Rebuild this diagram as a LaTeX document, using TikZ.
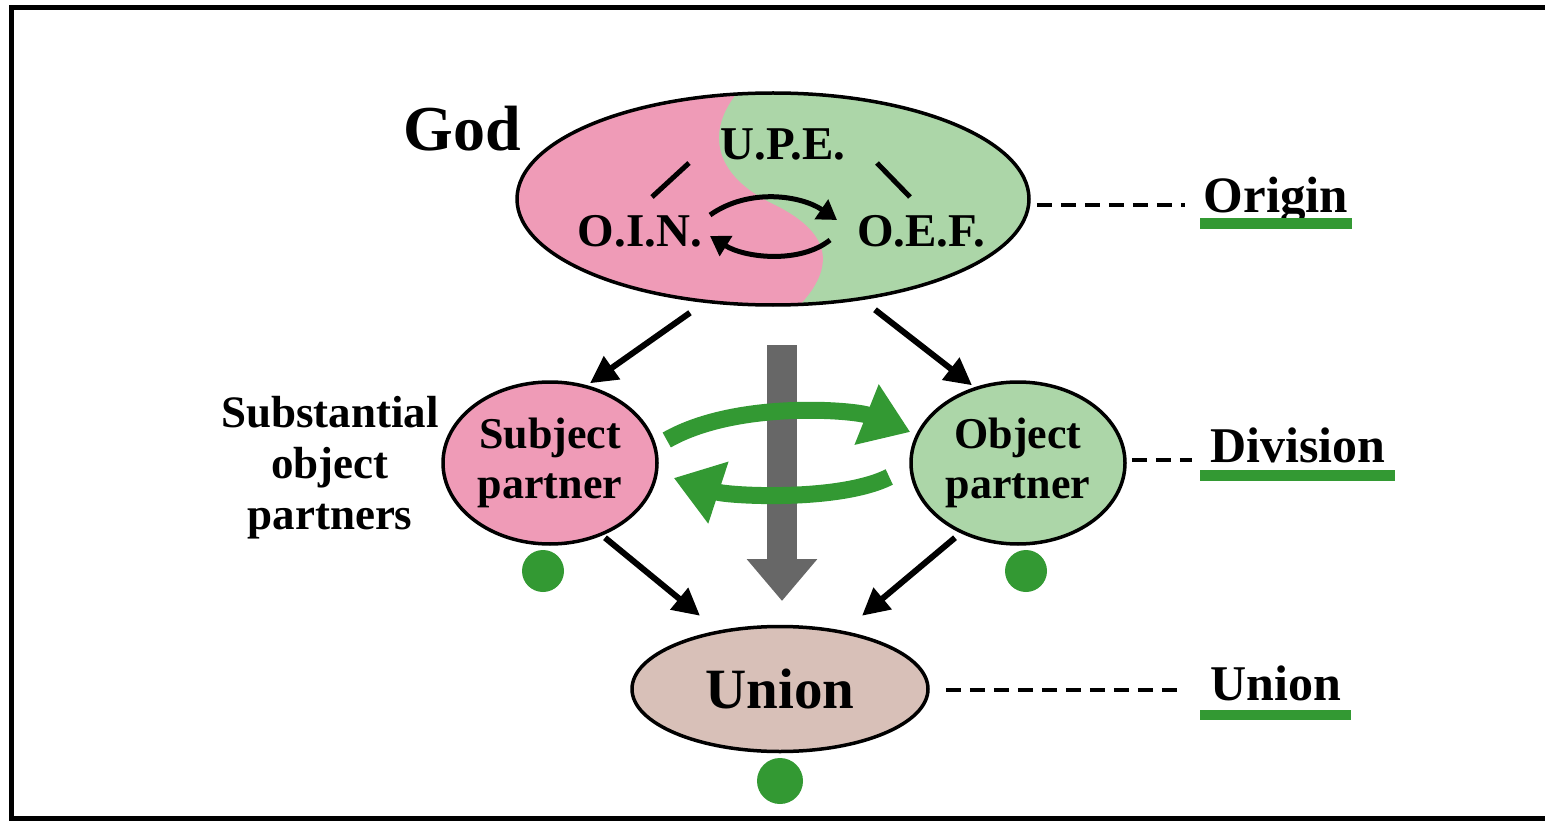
\documentclass[tikz,border=0pt]{standalone}
\usepackage{fontspec}
\setmainfont{Liberation Serif}
\usepackage{xcolor}
\usepackage{tikz}
\usetikzlibrary{positioning, arrows.meta, calc, shapes.geometric}
\definecolor{partnerpink}{HTML}{EF9BB7}
\definecolor{partnergreen}{HTML}{ACD6A8}
\definecolor{unionbrown}{HTML}{D8C0B8}
\definecolor{markgreen}{HTML}{339933}
\definecolor{flowgray}{HTML}{676767}

\begin{document}
\begin{tikzpicture}[x=1pt, y=-1pt,
    bigoval/.style={ellipse, draw=black, line width=3.5pt, inner sep=0pt, align=center},
    txt/.style 2 args={font=\bfseries\fontsize{#1}{#2}\selectfont, inner sep=0pt, align=center},
    lbl/.style={font=\bfseries\fontsize{50}{50}\selectfont, inner ysep=0pt, inner xsep=10pt, anchor=base west},
    flowline/.style={line width=6pt, -{Triangle[length=27pt, width=27pt]}},
    cycline/.style={line width=5pt, -{Triangle[length=19pt, width=23pt]}},
    swaparrow/.style={markgreen, line width=17pt, -{Triangle[length=47pt, width=62pt]}},
    tieline/.style={line width=4pt, dash pattern=on 15pt off 9pt},
    dotmark/.style={circle, fill=markgreen, inner sep=0pt}]
  \useasboundingbox (0,0) rectangle (1545,821);
  \draw[line width=5pt] (1550,7.5) -- (11.5,7.5) -- (11.5,818.5) -- (1550,818.5);

  % origin
  \node[bigoval, minimum width=512pt, minimum height=212pt,
        path picture={
          \fill[partnergreen] (-273,-119) rectangle (277,131);
          \fill[partnerpink] (-273,-119) -- (-34,-119) -- (-36,-106)
            .. controls (-66,-69) and (-62,-24) .. (2,6)
            .. controls (62,36) and (62,71) .. (22,111)
            -- (22,131) -- (-273,131) -- cycle;
        }] (god) at (773,199) {};
  \node[txt={64}{64}] (godlbl) at (462,129) {God};
  \node[txt={47}{47}] (upe) at (783,144) {U.P.E.};
  \node[txt={47}{47}] (oin) at (640,231) {O.I.N.};
  \node[txt={47}{47}] (oef) at (921,231) {O.E.F.};
  \draw[line width=5pt] ([shift={(12,-34)}]oin.center) -- ([shift={(-94,19)}]upe.center);
  \draw[line width=5pt] ([shift={(94,19)}]upe.center) -- ([shift={(-11,-34)}]oef.center);
  \draw[cycline] ([shift={(70,-16)}]oin.center) .. controls +(40,-28) and +(-35,-24) .. ([shift={(-84,-11)}]oef.center);
  \draw[cycline] ([shift={(-91,9)}]oef.center) .. controls +(-30,24) and +(35,22) .. ([shift={(70,5)}]oin.center);

  % division
  \node[bigoval, fill=partnerpink, minimum width=214pt, minimum height=162pt, txt={44}{50}] (subj) at (550,463) {Subject\\partner};
  \node[bigoval, fill=partnergreen, minimum width=214pt, minimum height=162pt, txt={44}{50}] (obj) at (1018,463) {Object\\partner};
  \node[txt={45}{51}] (sublbl) at (330,468) {Substantial\\object\\partners};

  % union
  \node[bigoval, fill=unionbrown, minimum width=296pt, minimum height=125pt, txt={57}{57}] (union) at (780,689) {Union};

  \node[dotmark, minimum size=42pt] (subjdot) at (543,571) {};
  \node[dotmark, minimum size=42pt] (objdot) at (1026,571) {};
  \node[dotmark, minimum size=46pt] (uniondot) at (780,781) {};

  \coordinate (flowtop) at (782,345);
  \coordinate (flowend) at (782,601);
  \draw[flowgray, line width=30pt, -{Triangle[length=42pt, width=68pt]}] (flowtop) -- (flowend);

  \draw[flowline] ([shift={(-83,6)}]god.south) -- ([shift={(40,3)}]subj.north);
  \draw[flowline] ([shift={(102,3)}]god.south) -- ([shift={(-46,5)}]obj.north);
  \draw[flowline] ([shift={(55,-8)}]subj.south) -- ([shift={(-80,-9)}]union.north);
  \draw[flowline] ([shift={(-63,-8)}]obj.south) -- ([shift={(82,-9)}]union.north);

  \draw[swaparrow] ([shift={(8,-23)}]subj.east) .. controls +(70,-40) and +(-55,-22) .. ([shift={(1,-31)}]obj.west);
  \draw[swaparrow] ([shift={(-20,14)}]obj.west) .. controls +(-50,25) and +(55,18) .. ([shift={(15,15)}]subj.east);

  % stage labels
  \node[lbl, inner xsep=3.5pt, font=\bfseries\fontsize{51}{51}\selectfont] (origin) at (1200,213) {Origin};
  \node[lbl] (division) at (1200,462) {Division};
  \node[lbl] (unionlbl) at (1200,700) {Union};
  \fill[markgreen] ([shift={(0,5)}]origin.base west) rectangle ([shift={(0,16)}]origin.base east);
  \fill[markgreen] ([shift={(0,8)}]division.base west) rectangle ([shift={(0,19)}]division.base east);
  \fill[markgreen] ([shift={(0,10)}]unionlbl.base west) rectangle ([shift={(0,20)}]unionlbl.base east);

  \draw[tieline] ([shift={(6,6)}]god.east) -- ($(god.east -| origin.west)+(-15,6)$);
  \draw[tieline] ([shift={(5,-3)}]obj.east) -- ($(obj.east -| division.west)+(-8,-3)$);
  \draw[tieline] ([shift={(16,1)}]union.east) -- ($(union.east -| unionlbl.west)+(-15,1)$);
\end{tikzpicture}
\end{document}
